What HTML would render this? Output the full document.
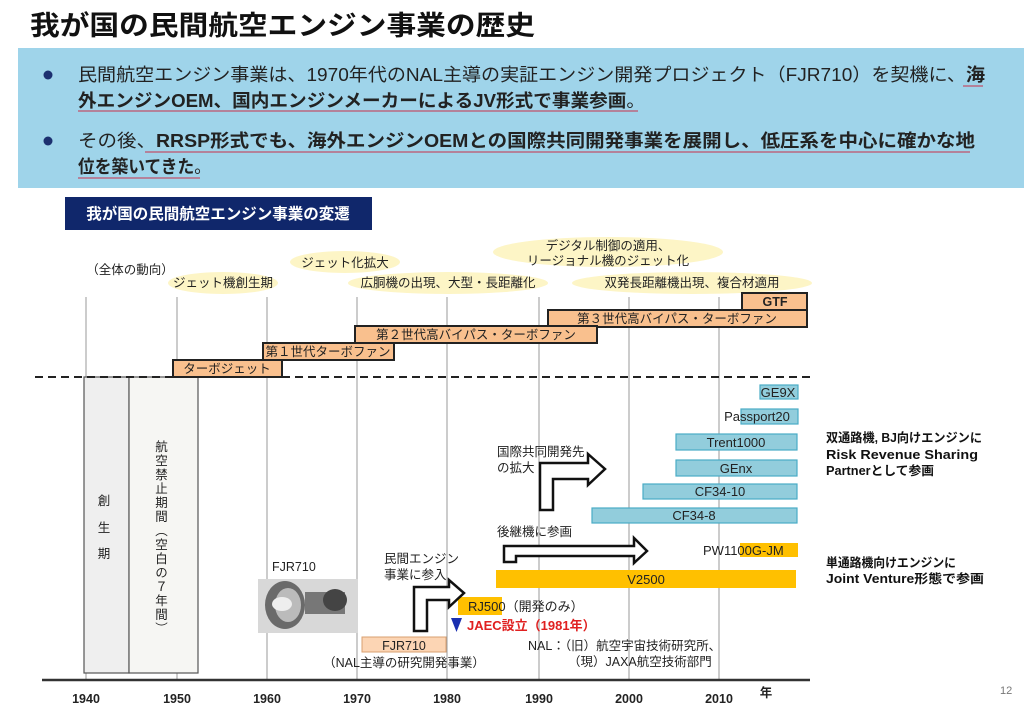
<!DOCTYPE html>
<html><head><meta charset="utf-8"><style>
html,body{margin:0;padding:0;background:#fff;}
svg{display:block;font-family:"Liberation Sans","Noto Sans CJK JP",sans-serif;}
</style></head><body>
<svg width="1024" height="707" viewBox="0 0 1024 707" xmlns="http://www.w3.org/2000/svg">
<rect width="1024" height="707" fill="#fff"/>
<text x="30" y="35" font-size="27" font-weight="bold" fill="#111" textLength="505" lengthAdjust="spacingAndGlyphs">我が国の民間航空エンジン事業の歴史</text>
<rect x="18" y="48" width="1006" height="140" fill="#9fd4ea"/>
<circle cx="48" cy="75" r="4.5" fill="#1c3070"/>
<circle cx="48" cy="141" r="4.5" fill="#1c3070"/>
<g font-size="18" fill="#222">
<text x="78" y="81" textLength="907" lengthAdjust="spacingAndGlyphs">民間航空エンジン事業は、1970年代のNAL主導の実証エンジン開発プロジェクト（FJR710）を契機に、<tspan font-weight="bold">海</tspan></text>
<text x="78" y="107" font-weight="bold" textLength="567" lengthAdjust="spacingAndGlyphs">外エンジンOEM、国内エンジンメーカーによるJV形式で事業参画<tspan font-weight="normal">。</tspan></text>
<text x="78" y="147" textLength="897" lengthAdjust="spacingAndGlyphs">その後、<tspan font-weight="bold">RRSP形式でも、海外エンジンOEMとの国際共同開発事業を展開し、低圧系を中心に確かな地</tspan></text>
<text x="78" y="173" font-weight="bold" textLength="133" lengthAdjust="spacingAndGlyphs">位を築いてきた<tspan font-weight="normal">。</tspan></text>
</g>
<g stroke="#c0506a" stroke-width="1.3">
<line x1="963" y1="86" x2="983" y2="86"/><line x1="78" y1="111" x2="638" y2="111"/>
<line x1="145" y1="152" x2="970" y2="152"/><line x1="78" y1="178" x2="200" y2="178"/>
</g>
<rect x="65" y="197" width="307" height="33" fill="#10276b"/>
<text x="218" y="219" font-size="15.5" font-weight="bold" fill="#fff" text-anchor="middle">我が国の民間航空エンジン事業の変遷</text>

<g fill="#fdf5c6">
<ellipse cx="345" cy="262" rx="55" ry="11"/>
<ellipse cx="223" cy="283" rx="55" ry="11"/>
<ellipse cx="448" cy="283" rx="100" ry="11"/>
<ellipse cx="608" cy="252" rx="115" ry="15"/>
<ellipse cx="692" cy="283" rx="120" ry="11"/>
</g>
<g font-size="12.5" fill="#222" text-anchor="middle">
<text x="130" y="274">（全体の動向）</text>
<text x="345" y="267">ジェット化拡大</text>
<text x="223" y="287">ジェット機創生期</text>
<text x="448" y="287">広胴機の出現、大型・長距離化</text>
<text x="608" y="250">デジタル制御の適用、</text>
<text x="608" y="265">リージョナル機のジェット化</text>
<text x="692" y="287">双発長距離機出現、複合材適用</text>
</g>

<g stroke="#999" stroke-width="1">
<line x1="86" y1="297" x2="86" y2="680"/><line x1="177" y1="297" x2="177" y2="680"/>
<line x1="267" y1="297" x2="267" y2="680"/><line x1="357" y1="297" x2="357" y2="680"/>
<line x1="447" y1="297" x2="447" y2="680"/><line x1="539" y1="297" x2="539" y2="680"/>
<line x1="629" y1="297" x2="629" y2="680"/><line x1="719" y1="297" x2="719" y2="680"/>
</g>

<rect x="84" y="377" width="45" height="296" fill="#efefef" stroke="#555" stroke-width="1.2"/>
<rect x="129" y="377" width="69" height="296" fill="#f6f6f3" stroke="#555" stroke-width="1.2"/>
<g font-size="12.5" fill="#222" text-anchor="middle">
<text x="104" y="505">創</text><text x="104" y="532">生</text><text x="104" y="558">期</text>
</g>
<text x="160" y="440" font-size="12.5" fill="#222" style="writing-mode:vertical-rl;letter-spacing:1.5px">航空禁止期間（空白の７年間）</text>

<line x1="35" y1="377" x2="810" y2="377" stroke="#222" stroke-width="2" stroke-dasharray="8,5"/>

<g fill="#f9c08e" stroke="#222" stroke-width="2">
<rect x="742" y="293" width="65" height="17"/>
<rect x="548" y="310" width="259" height="17"/>
<rect x="355" y="326" width="242" height="17"/>
<rect x="263" y="343" width="131" height="17"/>
<rect x="173" y="360" width="109" height="17"/>
</g>
<g font-size="12.5" fill="#222" text-anchor="middle">
<text x="775" y="306" font-weight="bold">GTF</text>
<text x="677" y="323">第３世代高バイパス・ターボファン</text>
<text x="476" y="339">第２世代高バイパス・ターボファン</text>
<text x="328" y="356">第１世代ターボファン</text>
<text x="227" y="373">ターボジェット</text>
</g>

<g fill="#92cddc" stroke="#4aacc6" stroke-width="1.2">
<rect x="760" y="385" width="38" height="14"/>
<rect x="741" y="409" width="57" height="15"/>
<rect x="676" y="434" width="121" height="16"/>
<rect x="676" y="460" width="121" height="16"/>
<rect x="643" y="484" width="154" height="15"/>
<rect x="592" y="508" width="205" height="15"/>
</g>
<g font-size="13" fill="#222" text-anchor="middle">
<text x="778" y="397">GE9X</text>
<text x="757" y="421">Passport20</text>
<text x="736" y="447">Trent1000</text>
<text x="736" y="473">GEnx</text>
<text x="720" y="496">CF34-10</text>
<text x="694" y="520">CF34-8</text>
</g>
<rect x="740" y="543" width="58" height="14" fill="#ffc000"/>
<rect x="496" y="570" width="300" height="18" fill="#ffc000"/>
<rect x="458" y="597" width="44" height="18" fill="#ffc000"/>
<g font-size="13" fill="#222">
<text x="703" y="555">PW1100G-JM</text>
<text x="646" y="584" text-anchor="middle">V2500</text>
<text x="468" y="611">RJ500（開発のみ）</text>
</g>
<polygon points="451,618 462,618 456.5,632" fill="#1a2fb0"/>
<text x="467" y="630" font-size="13" font-weight="bold" fill="#e02020">JAEC設立（1981年）</text>

<text x="272" y="571" font-size="12.5" fill="#222">FJR710</text>
<rect x="258" y="579" width="100" height="54" fill="#d8d8d8"/>
<ellipse cx="285" cy="605" rx="20" ry="24" fill="#6a6a6a"/>
<ellipse cx="288" cy="605" rx="13" ry="17" fill="#bbb"/>
<ellipse cx="282" cy="604" rx="10" ry="7" fill="#eee"/>
<rect x="305" y="592" width="40" height="22" fill="#777"/>
<ellipse cx="335" cy="600" rx="12" ry="11" fill="#444"/>
<rect x="362" y="637" width="84" height="15" fill="#fcd5b4" stroke="#d9a070" stroke-width="1"/>
<g font-size="12.5" fill="#222">
<text x="404" y="650" text-anchor="middle">FJR710</text>
<text x="404" y="667" text-anchor="middle">（NAL主導の研究開発事業）</text>
<text x="528" y="650">NAL：（旧）航空宇宙技術研究所、</text>
<text x="568" y="666">（現）JAXA航空技術部門</text>
<text x="384" y="563">民間エンジン</text>
<text x="384" y="579">事業に参入</text>
<text x="497" y="456">国際共同開発先</text>
<text x="497" y="472">の拡大</text>
<text x="497" y="536">後継機に参画</text>
</g>

<g fill="#fff" stroke="#111" stroke-width="2.5" stroke-linejoin="miter">
<polygon points="414,631 414,587 449,587 449,580 464,593 449,607 449,600 427,600 427,631"/>
<polygon points="540,510 540,463 588,463 588,454 605,469 588,485 588,479 553,479 553,510"/>
<polygon points="504,562 504,546 634,546 634,538 647,551 634,563 634,556 516,556 516,562"/>
</g>

<g font-size="12.5" font-weight="bold" fill="#111">
<text x="826" y="442" textLength="156" lengthAdjust="spacingAndGlyphs">双通路機, BJ向けエンジンに</text>
<text x="826" y="459" textLength="152" lengthAdjust="spacingAndGlyphs">Risk Revenue Sharing</text>
<text x="826" y="475" textLength="108" lengthAdjust="spacingAndGlyphs">Partnerとして参画</text>
<text x="826" y="567" textLength="130" lengthAdjust="spacingAndGlyphs">単通路機向けエンジンに</text>
<text x="826" y="583" textLength="158" lengthAdjust="spacingAndGlyphs">Joint Venture形態で参画</text>
</g>

<line x1="42" y1="680" x2="810" y2="680" stroke="#333" stroke-width="2.5"/>
<g font-size="12.5" font-weight="bold" fill="#222" text-anchor="middle">
<text x="86" y="703">1940</text><text x="177" y="703">1950</text><text x="267" y="703">1960</text>
<text x="357" y="703">1970</text><text x="447" y="703">1980</text><text x="539" y="703">1990</text>
<text x="629" y="703">2000</text><text x="719" y="703">2010</text><text x="766" y="697">年</text>
</g>
<text x="1000" y="694" font-size="11" fill="#777">12</text>
</svg>
</body></html>
